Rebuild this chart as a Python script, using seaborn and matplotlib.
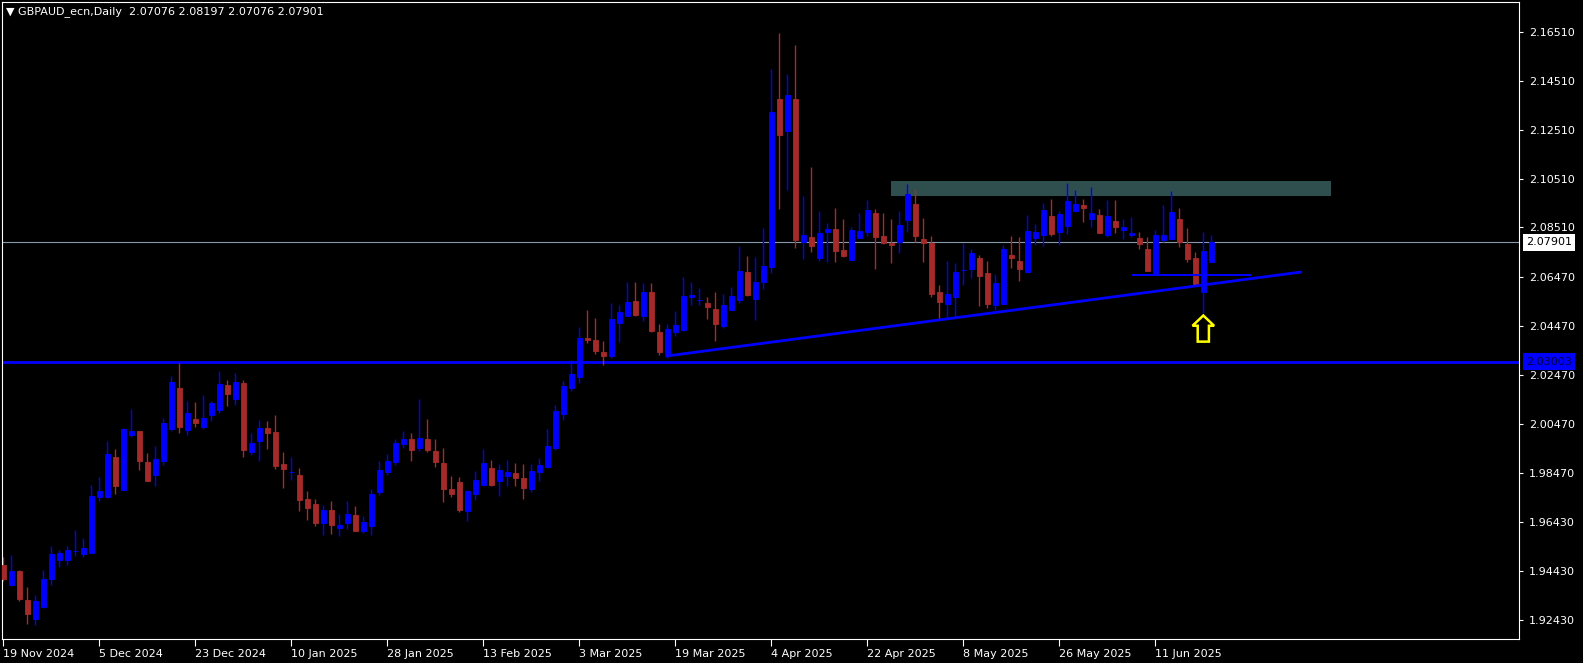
import numpy as np
import pandas as pd
import matplotlib
matplotlib.use("Agg")
import matplotlib.pyplot as plt
import matplotlib.transforms as mtransforms
from matplotlib.patches import Rectangle
import seaborn as sns

# --- chart data ---
symbol = "GBPAUD_ecn,Daily"
last_ohlc = ["2.07076", "2.08197", "2.07076", "2.07901"]

date_labels = ["19 Nov 2024", "5 Dec 2024", "23 Dec 2024", "10 Jan 2025", "28 Jan 2025",
               "13 Feb 2025", "3 Mar 2025", "19 Mar 2025", "4 Apr 2025", "22 Apr 2025",
               "8 May 2025", "26 May 2025", "11 Jun 2025"]
date_label_bars = [0, 12, 24, 36, 48, 60, 72, 84, 96, 108, 120, 132, 144]

price_ticks = [2.16510, 2.14510, 2.12510, 2.10510, 2.08510, 2.06470, 2.04470,
               2.02470, 2.00470, 1.98470, 1.96430, 1.94430, 1.92430]

opens = [1.9468, 1.9386, 1.9444, 1.9325, 1.9246, 1.9296, 1.9411, 1.9489, 1.9489, 1.9526,
         1.9513, 1.9518, 1.9747, 1.9747, 1.9911, 1.9775, 2.0001, 2.0017, 1.9890, 1.9837,
         1.9894, 2.0025, 2.0193, 2.0021, 2.0066, 2.0033, 2.0083, 2.0103, 2.0205, 2.0148,
         2.0214, 1.9931, 1.9976, 2.0029, 2.0013, 1.9882, 1.9848, 1.9837, 1.9739, 1.9718,
         1.9640, 1.9694, 1.9620, 1.9640, 1.9673, 1.9608, 1.9628, 1.9767, 1.9849, 1.9890,
         1.9964, 1.9984, 1.9947, 1.9984, 1.9935, 1.9886, 1.9780, 1.9808, 1.9689, 1.9760,
         1.9796, 1.9866, 1.9812, 1.9833, 1.9845, 1.9825, 1.9780, 1.9851, 1.9870, 1.9949,
         2.0088, 2.0195, 2.0238, 2.0398, 2.0390, 2.0341, 2.0324, 2.0459, 2.0488, 2.0550,
         2.0488, 2.0586, 2.0423, 2.0332, 2.0423, 2.0431, 2.0566, 2.0552, 2.0541, 2.0517,
         2.0447, 2.0513, 2.0554, 2.0668, 2.0558, 2.0627, 2.0689, 2.1377, 2.1246, 2.1377,
         2.0791, 2.0812, 2.0726, 2.0832, 2.0844, 2.0758, 2.0717, 2.0807, 2.0832, 2.0910,
         2.0816, 2.0787, 2.0791, 2.0881, 2.0947, 2.0803, 2.0787, 2.0586, 2.0537, 2.0566,
         2.0675, 2.0681, 2.0726, 2.0664, 2.0533, 2.0537, 2.0738, 2.0713, 2.0668, 2.0807,
         2.0820, 2.0898, 2.0832, 2.0857, 2.0918, 2.0943, 2.0885, 2.0902, 2.0820, 2.0877,
         2.0840, 2.0820, 2.0807, 2.0762, 2.0664, 2.0799, 2.0803, 2.0885, 2.0783, 2.0726,
         2.0586, 2.07076]
highs = [1.9502, 1.9509, 1.9448, 1.9378, 1.9346, 1.9448, 1.9546, 1.9530, 1.9546, 1.9612,
         1.9579, 1.9796, 1.9829, 1.9976, 1.9943, 2.0028, 2.0107, 2.0018, 1.9927, 1.9956,
         2.0069, 2.0242, 2.0294, 2.0140, 2.0136, 2.0165, 2.0140, 2.0263, 2.0226, 2.0255,
         2.0226, 2.0009, 2.0062, 2.0058, 2.0083, 1.9931, 1.9911, 1.9866, 1.9771, 1.9739,
         1.9714, 1.9730, 1.9677, 1.9730, 1.9710, 1.9669, 1.9780, 1.9894, 1.9923, 1.9984,
         2.0017, 2.0009, 2.0148, 2.0066, 1.9984, 1.9947, 1.9833, 1.9829, 1.9775, 1.9853,
         1.9943, 1.9898, 1.9882, 1.9898, 1.9886, 1.9882, 1.9882, 1.9907, 2.0025, 2.0124,
         2.0222, 2.0308, 2.0443, 2.0513, 2.0480, 2.0386, 2.0541, 2.0533, 2.0627, 2.0627,
         2.0623, 2.0623, 2.0455, 2.0455, 2.0509, 2.0648, 2.0627, 2.0603, 2.0566, 2.0586,
         2.0578, 2.0607, 2.0775, 2.0734, 2.0730, 2.0848, 2.1500, 2.1647, 2.1479, 2.1598,
         2.0979, 2.1100, 2.0918, 2.0869, 2.0930, 2.0885, 2.0853, 2.0910, 2.0963, 2.0926,
         2.0910, 2.0885, 2.0918, 2.1029, 2.1008, 2.0889, 2.0816, 2.0615, 2.0713, 2.0705,
         2.0787, 2.0762, 2.0738, 2.0713, 2.0660, 2.0779, 2.0816, 2.0812, 2.0902, 2.0865,
         2.0951, 2.0967, 2.0918, 2.1033, 2.1004, 2.0967, 2.1016, 2.0926, 2.0963, 2.0963,
         2.0885, 2.0893, 2.0832, 2.0812, 2.0840, 2.0943, 2.1000, 2.0930, 2.0848, 2.0750,
         2.0832, 2.08197]
lows = [1.9404, 1.9384, 1.9321, 1.9228, 1.9223, 1.9294, 1.9386, 1.9460, 1.9468, 1.9505,
        1.9502, 1.9516, 1.9730, 1.9743, 1.9759, 1.9774, 1.9994, 1.9857, 1.9811, 1.9792,
        1.9878, 2.0018, 2.0009, 2.0001, 2.0033, 2.0025, 2.0058, 2.0089, 2.0121, 2.0124,
        1.9911, 1.9919, 1.9894, 1.9943, 1.9861, 1.9784, 1.9816, 1.9690, 1.9653, 1.9628,
        1.9591, 1.9595, 1.9587, 1.9616, 1.9607, 1.9599, 1.9591, 1.9755, 1.9837, 1.9878,
        1.9947, 1.9894, 1.9937, 1.9932, 1.9871, 1.9728, 1.9748, 1.9687, 1.9650, 1.9736,
        1.9792, 1.9792, 1.9752, 1.9793, 1.9793, 1.9740, 1.9769, 1.9812, 1.9867, 1.9941,
        2.0064, 2.0182, 2.0214, 2.0379, 2.0334, 2.0287, 2.0315, 2.0382, 2.0486, 2.0488,
        2.0468, 2.0423, 2.0328, 2.0316, 2.0406, 2.0427, 2.0533, 2.0533, 2.0476, 2.0386,
        2.0439, 2.0512, 2.0541, 2.0570, 2.0472, 2.0599, 2.0664, 2.0926, 2.1004, 2.0767,
        2.0721, 2.0750, 2.0713, 2.0709, 2.0709, 2.0730, 2.0716, 2.0806, 2.0817, 2.0681,
        2.0783, 2.0705, 2.0746, 2.0832, 2.0791, 2.0709, 2.0566, 2.0476, 2.0476, 2.0484,
        2.0615, 2.0644, 2.0529, 2.0521, 2.0513, 2.0537, 2.0685, 2.0631, 2.0664, 2.0779,
        2.0775, 2.0816, 2.0779, 2.0824, 2.0914, 2.0873, 2.0853, 2.0827, 2.0812, 2.0828,
        2.0803, 2.0812, 2.0762, 2.0672, 2.0660, 2.0791, 2.0803, 2.0771, 2.0709, 2.0615,
        2.0500, 2.07076]
closes = [1.9411, 1.9444, 1.9329, 1.9269, 1.9321, 1.9411, 1.9513, 1.9517, 1.9530, 1.9527,
          1.9538, 1.9751, 1.9771, 1.9923, 1.9792, 2.0025, 2.0017, 1.9894, 1.9812, 1.9902,
          2.0050, 2.0218, 2.0033, 2.0091, 2.0050, 2.0070, 2.0132, 2.0210, 2.0169, 2.0218,
          1.9939, 1.9968, 2.0029, 2.0009, 1.9874, 1.9861, 1.9849, 1.9735, 1.9702, 1.9640,
          1.9694, 1.9632, 1.9631, 1.9677, 1.9608, 1.9644, 1.9759, 1.9857, 1.9894, 1.9968,
          1.9984, 1.9939, 1.9988, 1.9941, 1.9891, 1.9781, 1.9760, 1.9695, 1.9771, 1.9816,
          1.9886, 1.9796, 1.9857, 1.9849, 1.9825, 1.9785, 1.9853, 1.9878, 1.9957, 2.0099,
          2.0201, 2.0251, 2.0398, 2.0390, 2.0345, 2.0324, 2.0476, 2.0504, 2.0545, 2.0492,
          2.0586, 2.0427, 2.0341, 2.0435, 2.0451, 2.0570, 2.0574, 2.0553, 2.0525, 2.0455,
          2.0533, 2.0570, 2.0672, 2.0574, 2.0627, 2.0693, 2.1323, 2.1229, 2.1393, 2.0799,
          2.0820, 2.0775, 2.0828, 2.0844, 2.0754, 2.0734, 2.0840, 2.0836, 2.0922, 2.0812,
          2.0787, 2.0779, 2.0861, 2.0988, 2.0816, 2.0787, 2.0578, 2.0545, 2.0578, 2.0668,
          2.0676, 2.0746, 2.0652, 2.0537, 2.0623, 2.0762, 2.0726, 2.0681, 2.0836, 2.0832,
          2.0922, 2.0824, 2.0906, 2.0959, 2.0947, 2.0930, 2.0910, 2.0828, 2.0898, 2.0853,
          2.0853, 2.0828, 2.0783, 2.0672, 2.0820, 2.0820, 2.0914, 2.0791, 2.0721, 2.0615,
          2.0754, 2.07901]

# drawn objects on the chart
support_level = 2.03003
last_price = 2.07901
trend_x = [82.9, 162.2]
trend_y = [2.0324, 2.0668]
neck_x = [141.1, 156.0]
neck_y = 2.0657
zone_x = [111.0, 166.0]
zone_y = [2.0979, 2.1041]
arrow_bar = 150
arrow_y = [2.0383, 2.0490]

BLUE = "#0000ff"
RED = "#a52a2a"

df = pd.DataFrame({"open": opens, "high": highs, "low": lows, "close": closes})
df["bar"] = np.arange(len(df))
df["up"] = df["close"] >= df["open"]

sns.set_theme(style="dark", rc={"axes.facecolor": "black", "figure.facecolor": "black"})
plt.rcParams["font.family"] = ["DejaVu Sans"]

W, H = 1583, 663
fig = plt.figure(figsize=(W / 100, H / 100), dpi=100)
ax = fig.add_axes([2 / W, 24 / H, 1517 / W, 637 / H])
ax.set_facecolor("black")
ax.grid(False)

# resistance zone behind the candles
ax.add_patch(Rectangle((zone_x[0], zone_y[0]), zone_x[1] - zone_x[0], zone_y[1] - zone_y[0],
                       facecolor="#2f4f4f", edgecolor="none", zorder=0.5))

ax.axhline(last_price, color="#8a99aa", lw=0.8, zorder=1)
ax.axhline(support_level, color=BLUE, lw=2.0, zorder=1)

for up, color in [(True, BLUE), (False, RED)]:
    d = df[df["up"] == up]
    ax.vlines(d["bar"], d["low"], d["high"], color=color, lw=1.0, zorder=2)
    ax.bar(d["bar"], d["close"] - d["open"], bottom=d["open"], width=0.56,
           color=color, edgecolor=color, linewidth=0.6, zorder=3)

sns.lineplot(x=trend_x, y=trend_y, ax=ax, color=BLUE, lw=2.0, zorder=4)
ax.hlines(neck_y, neck_x[0], neck_x[1], color=BLUE, lw=1.4, zorder=4)

ax.arrow(arrow_bar, arrow_y[0], 0, arrow_y[1] - arrow_y[0], width=1.4, head_width=2.7,
         head_length=0.0042, length_includes_head=True, fc="black", ec="#ffff00",
         lw=1.8, zorder=5)

ax.set_xlim(-0.16, 189.46)
ax.set_ylim(1.91653, 2.17738)

ax.yaxis.tick_right()
ax.set_yticks(price_ticks, [f"{v:.5f}" for v in price_ticks])
ax.set_xticks(date_label_bars, date_labels)
for lbl in ax.get_xticklabels():
    lbl.set_ha("left")
ax.tick_params(axis="y", colors="white", length=3, width=0.8, pad=4, labelsize=8,
               left=False, right=True)
ax.tick_params(axis="x", colors="white", length=5, width=0.8, pad=2, labelsize=8,
               bottom=True)
ax.set_xlabel("")
ax.set_ylabel("")
for sp in ax.spines.values():
    sp.set_color("white")
    sp.set_linewidth(0.8)
    sp.set_visible(True)

# price boxes on the right scale
trans = mtransforms.blended_transform_factory(ax.transAxes, ax.transData)
ax.text(1.0046, last_price, f"{last_price:.5f}", transform=trans, color="black",
        fontsize=8, va="center", ha="left", clip_on=False, zorder=6,
        bbox=dict(boxstyle="square,pad=0.3", fc="white", ec="none"))
ax.text(1.0046, support_level, f"{support_level:.5f}", transform=trans, color="#000040",
        fontsize=8, va="center", ha="left", clip_on=False, zorder=6,
        bbox=dict(boxstyle="square,pad=0.3", fc=BLUE, ec="none"))

fig.text(6 / W, 1 - 12 / H, "\u25BC " + symbol + "  " + " ".join(last_ohlc),
         color="white", fontsize=8, va="center", ha="left")

fig.savefig("out.png", dpi=100, facecolor="black")
